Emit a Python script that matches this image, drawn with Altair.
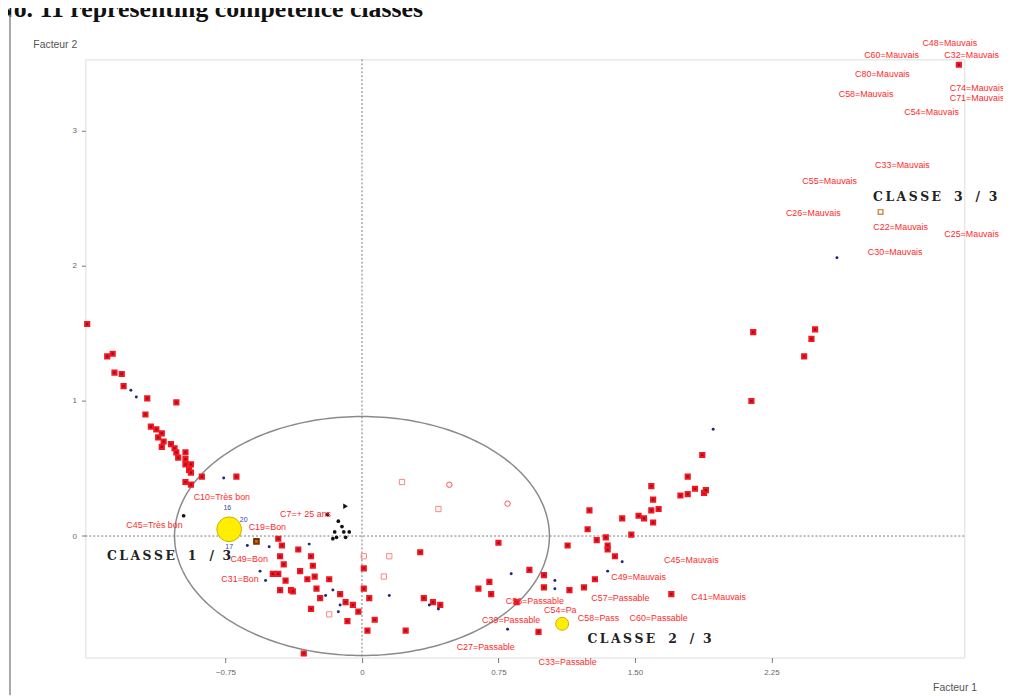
import altair as alt
import numpy as np
import pandas as pd

# ---------------- data (in factor units) ----------------
red_x = [-1.51, -1.40, -1.37, -1.36, -1.32, -1.31, -1.18, -1.02, -1.19, -1.16, -1.13, -1.10, -1.12, -1.09,
         -1.10, -1.05, -1.03, -1.02, -0.97, -1.01, -0.97, -0.97, -0.94, -0.95, -0.94, -0.97, -0.94, -0.88,
         -0.69,
         -0.46, -0.44, -0.45, -0.43, -0.35, -0.34, -0.46, -0.42, -0.45, -0.39, -0.30, -0.28, -0.27, -0.26,
         -0.18, -0.38, -0.25, -0.23, -0.28, -0.12, -0.09, -0.05, -0.02, -0.08, 0.01, 0.01, 0.04, 0.03,
         0.07, 0.24, 0.32, 0.34, 0.39, 0.43, 0.64, -0.32, -0.49,
         0.75, 0.70, 0.71, 0.85, 0.92, 1.00, 1.00, 1.14, 0.97, 1.13, 1.22, 1.28, 1.25, 1.24, 1.29, 1.34,
         1.35, 1.35, 1.39, 1.43, 1.48, 1.52, 1.55, 1.60, 1.59, 1.60, 1.59, 1.63, 1.70, 1.75, 1.79, 1.83,
         1.88, 1.89, 1.79, 1.87, 2.14, 2.15, 2.43, 2.47, 2.49, 3.28]
red_y = [1.57, 1.33, 1.35, 1.21, 1.20, 1.11, 1.02, 0.99, 0.90, 0.81, 0.79, 0.76, 0.73, 0.70,
         0.66, 0.68, 0.65, 0.62, 0.62, 0.58, 0.57, 0.53, 0.53, 0.49, 0.47, 0.40, 0.38, 0.44,
         0.44,
         -0.02, -0.07, -0.15, -0.21, -0.10, -0.26, -0.28, -0.33, -0.40, -0.40, -0.32, -0.15, -0.22, -0.30,
         -0.32, -0.41, -0.39, -0.46, -0.54, -0.43, -0.49, -0.51, -0.56, -0.63, -0.24, -0.39, -0.46, -0.70,
         -0.62, -0.70, -0.12, -0.46, -0.49, -0.51, -0.39, -0.87, -0.28,
         -0.05, -0.34, -0.43, -0.49, -0.25, -0.29, -0.38, -0.40, -0.71, -0.07, -0.38, -0.32, 0.19, 0.05,
         -0.03, -0.01, -0.07, -0.10, -0.15, 0.13, 0.01, 0.15, 0.13, 0.10, 0.37, 0.27, 0.19, 0.20, -0.43,
         0.30, 0.31, 0.35, 0.32, 0.34, 0.44, 0.60, 1.00, 1.51, 1.33, 1.46, 1.53, 3.49]

blue_x = [-1.27, -1.24, -0.76, -0.63, -0.51, -0.29, -0.20, -0.16, -0.12, -0.13, 0.15, 0.37, 0.42,
          0.82, 1.06, 1.06, 1.43, 1.35, 0.80, 1.93, 2.61, -0.56, -0.53]
blue_y = [1.08, 1.03, 0.43, -0.07, -0.08, -0.06, -0.44, -0.40, -0.51, -0.56, -0.44, -0.51, -0.54,
          -0.28, -0.33, -0.39, -0.19, -0.26, -0.69, 0.79, 2.06, -0.26, -0.33]

black_x = [-0.98, -0.19, -0.13, -0.11, -0.15, -0.10, -0.14, -0.09, -0.07, -0.16]
black_y = [0.15, 0.16, 0.11, 0.07, 0.03, 0.03, -0.01, -0.01, 0.03, -0.02]
tri_x = [-0.09]
tri_y = [0.22]

open_sq_x = [0.22, 0.42, 0.15, 0.12, -0.18, 0.01]
open_sq_y = [0.40, 0.20, -0.15, -0.30, -0.58, -0.15]
open_ci_x = [0.48, 0.80]
open_ci_y = [0.38, 0.24]

centre_x = [-0.73, 1.10]
centre_y = [0.05, -0.65]
centre_size = [620, 170]

brown_x = [-0.58]
brown_y = [-0.04]
c3_x = [2.85]
c3_y = [2.40]

ellipse_cx, ellipse_cy, ellipse_rx, ellipse_ry = 0.0, 0.0, 1.03, 0.885

lab_text = ["C10=Très bon", "C45=Très bon", "C7=+ 25 ans", "C19=Bon", "C49=Bon", "C31=Bon",
            "C45=Mauvais", "C49=Mauvais", "C41=Mauvais", "C57=Passable", "C56=Passable", "C54=Pa",
            "C58=Pass", "C60=Passable", "C39=Passable", "C27=Passable", "C33=Passable",
            "C48=Mauvais", "C60=Mauvais", "C32=Mauvais", "C74=Mauvais", "C71=Mauvais", "C80=Mauvais",
            "C58=Mauvais", "C54=Mauvais", "C33=Mauvais", "C55=Mauvais", "C26=Mauvais", "C22=Mauvais",
            "C25=Mauvais", "C30=Mauvais"]
lab_x = [-0.77, -1.14, -0.31, -0.52, -0.62, -0.67,
         1.81, 1.52, 1.96, 1.42, 0.95, 1.09,
         1.30, 1.63, 0.82, 0.68, 1.13,
         3.23, 2.91, 3.35, 3.38, 3.38, 2.86,
         2.77, 3.13, 2.97, 2.57, 2.48, 2.96,
         3.35, 2.93]
lab_y = [0.29, 0.08, 0.16, 0.07, -0.17, -0.32,
         -0.18, -0.30, -0.45, -0.46, -0.48, -0.55,
         -0.61, -0.61, -0.62, -0.82, -0.93,
         3.65, 3.56, 3.56, 3.32, 3.24, 3.42,
         3.27, 3.14, 2.75, 2.63, 2.39, 2.29,
         2.24, 2.10]

num_text = ["16", "20", "17"]
num_x = [-0.74, -0.65, -0.73]
num_y = [0.21, 0.12, -0.08]

TS = "\u2009"
NB = "\u00a0"
class_word = TS.join("CLASSE")
class_text = [class_word + NB * 3 + n + NB * 3 + "/" + NB * 2 + "3" for n in ["1", "2", "3"]]
class_x = [-1.06, 1.58, 3.15]
class_y = [-0.15, -0.76, 2.51]

x_ticks = [-0.75, 0, 0.75, 1.5, 2.25]
y_ticks = [0, 1, 2, 3]

# ---------------- scales / axes ----------------
xs = alt.Scale(domain=[-1.52, 3.31], nice=False, zero=False)
ys = alt.Scale(domain=[-0.90, 3.53], nice=False, zero=False)
x_axis = alt.Axis(values=x_ticks, labelExpr="datum.value == 0 ? '0' : format(datum.value, '.2f')",
                  grid=False, domain=False, tickColor="#777", tickSize=5, labelColor="#666",
                  labelFontSize=8, labelFont="Liberation Sans", labelPadding=6,
                  title="Facteur 1", titleX=854, titleY=30, titleAlign="left",
                  titleBaseline="middle", titleFontSize=10.5, titleFontWeight="normal",
                  titleColor="#555", titleFont="Liberation Sans")
y_axis = alt.Axis(values=y_ticks, format="d", grid=False, domain=False, tickColor="#777", tickSize=4,
                  labelColor="#666", labelFontSize=8, labelFont="Liberation Sans", labelPadding=5,
                  title="Facteur 2", titleAngle=0, titleX=-53, titleY=-15, titleAlign="left",
                  titleBaseline="middle", titleFontSize=10.5, titleFontWeight="normal",
                  titleColor="#555", titleFont="Liberation Sans")


def enc(ch, **kw):
    return ch.encode(x=alt.X("x:Q", scale=xs, axis=x_axis),
                     y=alt.Y("y:Q", scale=ys, axis=y_axis), **kw)


def pts(xv, yv):
    return pd.DataFrame({"x": xv, "y": yv})


t = np.linspace(0, 2 * np.pi, 241)
ell = pd.DataFrame({"x": ellipse_cx + ellipse_rx * np.cos(t),
                    "y": ellipse_cy + ellipse_ry * np.sin(t), "o": np.arange(len(t))})

layers = []
layers.append(enc(alt.Chart(ell).mark_line(color="#8a8a8a", strokeWidth=1.5), order="o:Q"))

zero = pd.DataFrame({"v": [0]})
layers.append(alt.Chart(zero).mark_rule(color="#777", strokeDash=[2, 2], strokeWidth=1).encode(
    x=alt.X("v:Q", scale=xs, axis=x_axis)))
layers.append(alt.Chart(zero).mark_rule(color="#777", strokeDash=[2, 2], strokeWidth=1).encode(
    y=alt.Y("v:Q", scale=ys, axis=y_axis)))

layers.append(enc(alt.Chart(pts(open_sq_x, open_sq_y)).mark_square(
    filled=False, color="#ff5050", size=28, strokeWidth=1)))
layers.append(enc(alt.Chart(pts(open_ci_x, open_ci_y)).mark_circle(
    filled=False, stroke="#ff5050", size=30, strokeWidth=1, opacity=1)))
layers.append(enc(alt.Chart(pts(red_x, red_y)).mark_square(
    filled=True, fill="#a00818", stroke="#f01822", strokeWidth=2, size=18, opacity=1)))
layers.append(enc(alt.Chart(pts(blue_x, blue_y)).mark_circle(
    color="#1c2a78", size=9, opacity=1)))
layers.append(enc(alt.Chart(pts(black_x, black_y)).mark_circle(
    color="#111", size=14, opacity=1)))
layers.append(enc(alt.Chart(pts(tri_x, tri_y)).mark_point(
    shape="triangle-right", filled=True, color="#111", size=30, opacity=1)))
layers.append(enc(alt.Chart(pts(brown_x, brown_y)).mark_square(
    filled=True, fill="#d86a10", stroke="#7a3000", size=22, opacity=1)))
layers.append(enc(alt.Chart(pts(c3_x, c3_y)).mark_square(
    filled=False, color="#c06000", size=22, strokeWidth=1.5)))
cdf = pd.DataFrame({"x": centre_x, "y": centre_y, "s": centre_size})
layers.append(enc(alt.Chart(cdf).mark_circle(
    fill="#ffee00", stroke="#c9b000", strokeWidth=1, opacity=1),
    size=alt.Size("s:Q", scale=None, legend=None)))

ldf = pd.DataFrame({"x": lab_x, "y": lab_y, "t": lab_text})
layers.append(enc(alt.Chart(ldf).mark_text(
    color="#ff2a2a", font="Liberation Sans", fontSize=9, align="center", baseline="middle"),
    text="t:N"))
ndf = pd.DataFrame({"x": num_x, "y": num_y, "t": num_text})
layers.append(enc(alt.Chart(ndf).mark_text(
    color="#3040b0", font="Liberation Sans", fontSize=7, align="center", baseline="middle"),
    text="t:N"))
kdf = pd.DataFrame({"x": class_x, "y": class_y, "t": class_text})
layers.append(enc(alt.Chart(kdf).mark_text(
    color="#222", font="DejaVu Serif", fontWeight="bold", fontSize=12.5, align="center",
    baseline="middle"), text="t:N"))

# figure caption (cropped at top in the original) and page border line
layers.append(alt.Chart(pd.DataFrame({"t": ["No. 11 representing competence classes"]})).mark_text(
    font="Liberation Serif", fontWeight="bold", fontSize=26, align="left", baseline="alphabetic",
    color="#111").encode(x=alt.value(-91), y=alt.value(-43), text="t:N"))
layers.append(alt.Chart(zero).mark_rule(color="#8a8a8a", strokeWidth=1.5).encode(
    x=alt.value(-76), y=alt.value(-45), y2=alt.value(641)))

chart = alt.layer(*layers).properties(
    width=886, height=603,
    autosize=alt.AutoSizeParams(type="none"),
    padding={"left": 78, "top": 49, "right": 39, "bottom": 38},
).configure_view(stroke="#9a9a9a", strokeWidth=2).configure(background="white")

chart.save("out.html", embed_options={"renderer": "svg", "actions": False})
